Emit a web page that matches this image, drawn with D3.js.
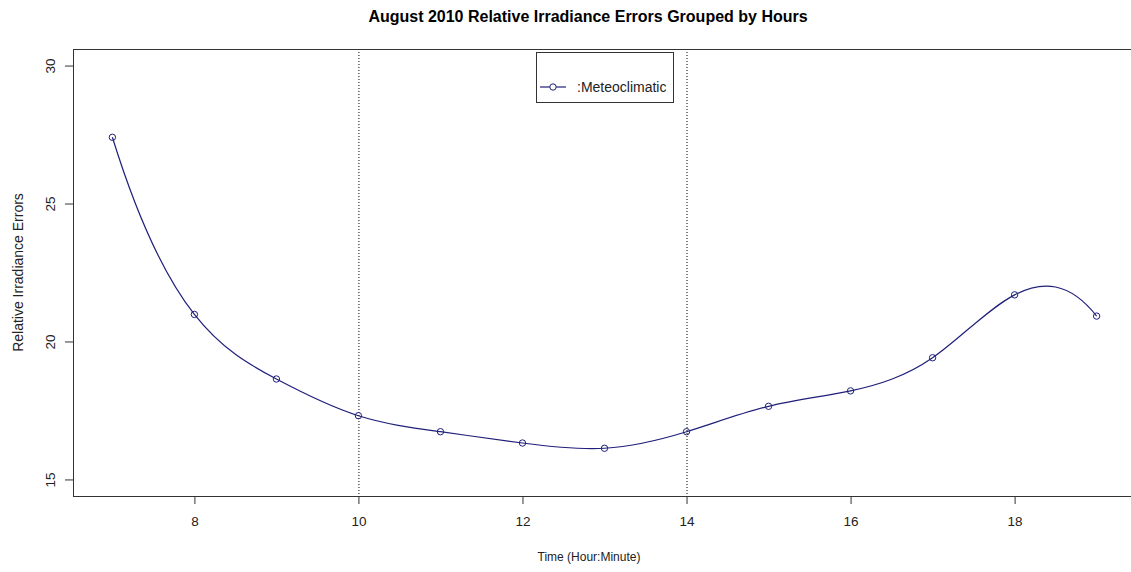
<!DOCTYPE html>
<html>
<head>
<meta charset="utf-8">
<script src="https://cdn.jsdelivr.net/npm/d3@7"></script>
<style>
  html, body { margin: 0; padding: 0; background: #fff; }
  svg { display: block; font-family: "Liberation Sans", Arial, sans-serif; }
</style>
</head>
<body>
<svg id="chart" width="1131" height="572"></svg>
<script>
// Hourly relative irradiance errors, August 2010
const hours = [7, 8, 9, 10, 11, 12, 13, 14, 15, 16, 17, 18, 19];
const errors = [27.40, 20.98, 18.64, 17.31, 16.73, 16.32, 16.13, 16.73, 17.65, 18.21, 19.41, 21.69, 20.92];
const xTicks = [8, 10, 12, 14, 16, 18];
const yTicks = [15, 20, 25, 30];
const markerHours = [10, 14];
const seriesName = ":Meteoclimatic";

// Interpolating cubic spline curve (Forsythe–Malcolm–Moler end conditions),
// emitted as Bezier segments for d3.line().
function FmmCurve(context) { this._context = context; }
FmmCurve.prototype = {
  areaStart() { this._line = 0; },
  areaEnd() { this._line = NaN; },
  lineStart() { this._xs = []; this._ys = []; },
  point(px, py) { this._xs.push(+px); this._ys.push(+py); },
  lineEnd() {
    const x = this._xs, y = this._ys, n = x.length, ctx = this._context;
    if (!n) return;
    ctx.moveTo(x[0], y[0]);
    if (n < 4) { for (let i = 1; i < n; i++) ctx.lineTo(x[i], y[i]); return; }
    const nm1 = n - 1;
    const b = new Array(n).fill(0), c = new Array(n).fill(0), d = new Array(n).fill(0);
    d[0] = x[1] - x[0];
    c[1] = (y[1] - y[0]) / d[0];
    for (let i = 1; i < nm1; i++) {
      d[i] = x[i + 1] - x[i];
      b[i] = 2 * (d[i - 1] + d[i]);
      c[i + 1] = (y[i + 1] - y[i]) / d[i];
      c[i] = c[i + 1] - c[i];
    }
    b[0] = -d[0];
    b[nm1] = -d[n - 2];
    c[0] = c[2] / (x[3] - x[1]) - c[1] / (x[2] - x[0]);
    c[nm1] = c[n - 2] / (x[nm1] - x[n - 3]) - c[n - 3] / (x[n - 2] - x[n - 4]);
    c[0] = c[0] * d[0] * d[0] / (x[3] - x[0]);
    c[nm1] = -c[nm1] * d[n - 2] * d[n - 2] / (x[nm1] - x[n - 4]);
    for (let i = 1; i <= nm1; i++) {
      const t = d[i - 1] / b[i - 1];
      b[i] -= t * d[i - 1];
      c[i] -= t * c[i - 1];
    }
    c[nm1] /= b[nm1];
    for (let i = n - 2; i >= 0; i--) c[i] = (c[i] - d[i] * c[i + 1]) / b[i];
    b[nm1] = (y[nm1] - y[n - 2]) / d[n - 2] + d[n - 2] * (c[n - 2] + 2 * c[nm1]);
    for (let i = 0; i < nm1; i++) {
      b[i] = (y[i + 1] - y[i]) / d[i] - d[i] * (c[i + 1] + 2 * c[i]);
    }
    // b[i] now holds the slope at each knot
    for (let i = 0; i < nm1; i++) {
      const h = x[i + 1] - x[i];
      ctx.bezierCurveTo(
        x[i] + h / 3, y[i] + b[i] * h / 3,
        x[i + 1] - h / 3, y[i + 1] - b[i + 1] * h / 3,
        x[i + 1], y[i + 1]);
    }
  }
};
const curveFmm = context => new FmmCurve(context);

const svg = d3.select("#chart");
const plot = { left: 73, right: 1136, top: 49, bottom: 496 };
const lineColor = "#1f1f7a";

const x = d3.scaleLinear().domain([6.52, 19.48]).range([plot.left, plot.right]);
const y = d3.scaleLinear().domain([14.4, 30.6]).range([plot.bottom, plot.top]);

// Title
svg.append("text")
  .attr("x", 588).attr("y", 22)
  .attr("text-anchor", "middle")
  .attr("font-size", 16).attr("font-weight", "bold")
  .attr("fill", "#000")
  .text("August 2010 Relative Irradiance Errors Grouped by Hours");

// Axes
const xAxis = d3.axisBottom(x).tickValues(xTicks).tickSize(8).tickPadding(12).tickFormat(d3.format("d"));
const gx = svg.append("g").attr("transform", `translate(0,${plot.bottom})`).call(xAxis);
gx.select(".domain").remove();
gx.selectAll("line").attr("stroke", "#333");
gx.selectAll("text").attr("font-size", 13.5).attr("fill", "#222")
  .attr("font-family", "Liberation Sans, Arial, sans-serif");

const yAxis = d3.axisLeft(y).tickValues(yTicks).tickSize(8).tickFormat(d3.format("d"));
const gy = svg.append("g").attr("transform", `translate(${plot.left},0)`).call(yAxis);
gy.select(".domain").remove();
gy.selectAll("line").attr("stroke", "#333");
gy.selectAll("text")
  .attr("font-size", 13.5).attr("fill", "#222")
  .attr("font-family", "Liberation Sans, Arial, sans-serif")
  .attr("x", null).attr("dy", null)
  .attr("text-anchor", "middle")
  .attr("transform", "translate(-18,0) rotate(-90)");

// Axis titles
svg.append("text")
  .attr("x", 589).attr("y", 561)
  .attr("text-anchor", "middle").attr("font-size", 12).attr("fill", "#222")
  .text("Time (Hour:Minute)");
svg.append("text")
  .attr("transform", `translate(23,${(plot.top + plot.bottom) / 2}) rotate(-90)`)
  .attr("text-anchor", "middle").attr("font-size", 14).attr("fill", "#222")
  .text("Relative Irradiance Errors");

// Dotted reference lines
svg.selectAll("line.ref").data(markerHours).join("line")
  .attr("class", "ref")
  .attr("x1", d => x(d) + 0.5).attr("x2", d => x(d) + 0.5)
  .attr("y1", plot.top).attr("y2", plot.bottom)
  .attr("stroke", "#000").attr("stroke-width", 1)
  .attr("stroke-dasharray", "1,2");

// Smooth curve through the hourly values
const pts = hours.map((h, i) => [h, errors[i]]);
const line = d3.line().x(d => x(d[0])).y(d => y(d[1])).curve(curveFmm);
svg.append("path")
  .attr("d", line(pts))
  .attr("fill", "none").attr("stroke", lineColor).attr("stroke-width", 1.2);

svg.selectAll("circle.pt").data(pts).join("circle")
  .attr("class", "pt")
  .attr("cx", d => x(d[0])).attr("cy", d => y(d[1])).attr("r", 3.2)
  .attr("fill", "none").attr("stroke", lineColor).attr("stroke-width", 1);

// Plot frame
svg.append("rect")
  .attr("x", plot.left + 0.5).attr("y", plot.top + 0.5)
  .attr("width", plot.right - plot.left).attr("height", plot.bottom - plot.top)
  .attr("fill", "none").attr("stroke", "#333").attr("stroke-width", 1);

// Legend
const lg = svg.append("g");
lg.append("rect")
  .attr("x", 536.5).attr("y", 52.5).attr("width", 137).attr("height", 50)
  .attr("fill", "#fff").attr("stroke", "#333");
lg.append("line")
  .attr("x1", 540).attr("x2", 566).attr("y1", 87).attr("y2", 87)
  .attr("stroke", lineColor).attr("stroke-width", 1.2);
lg.append("circle")
  .attr("cx", 553).attr("cy", 87).attr("r", 3.2)
  .attr("fill", "#fff").attr("stroke", lineColor);
lg.append("text")
  .attr("x", 577).attr("y", 92)
  .attr("font-size", 14).attr("fill", "#222")
  .text(seriesName);
</script>
</body>
</html>
